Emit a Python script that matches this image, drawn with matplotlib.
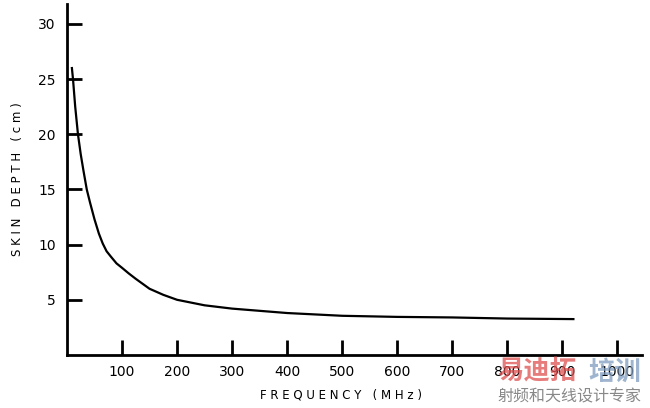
import matplotlib
matplotlib.use("Agg")
import matplotlib.pyplot as plt

# -------------------------
# dados
# -------------------------
freq_mhz = [9, 11, 15, 20, 25, 30, 36, 42, 50, 58, 65, 72, 80, 90, 100, 112,
            125, 150, 175, 200, 250, 300, 400, 500, 600, 700, 800, 920]
skin_depth_cm = [26, 25, 22.5, 20, 18.2, 16.7, 15, 13.8, 12.3, 11.0, 10.1,
                 9.4, 8.9, 8.3, 7.9, 7.4, 6.9, 6.0, 5.45, 5.0, 4.5, 4.2, 3.8,
                 3.55, 3.45, 3.4, 3.3, 3.25]

x_ticks = [100, 200, 300, 400, 500, 600, 700, 800, 900, 1000]
y_ticks = [5, 10, 15, 20, 25, 30]

fig = plt.figure(figsize=(6.5, 4.08), dpi=100)
ax = fig.add_axes([0.103, 0.130, 0.885, 0.860])

ax.plot(freq_mhz, skin_depth_cm, color="black", linewidth=1.6)

ax.set_xlim(0, 1045)
ax.set_ylim(0, 31.8)

for s in ["top", "right"]:
    ax.spines[s].set_visible(False)
for s in ["left", "bottom"]:
    ax.spines[s].set_linewidth(2)

ax.set_xticks(x_ticks)
ax.set_yticks(y_ticks)
ax.set_xticklabels([str(v) for v in x_ticks])
ax.set_yticklabels([str(v) for v in y_ticks])
ax.tick_params(direction="in", length=11, width=2, labelsize=10, pad=7)
ax.tick_params(axis="y", pad=8)

ax.set_xlabel("F R E Q U E N C Y   ( M H z )", fontsize=8.5)
ax.xaxis.set_label_coords(0.476, -0.095)
ax.set_ylabel("S K I N   D E P T H   ( c m )", fontsize=8.5)
ax.yaxis.set_label_coords(-0.075, 0.50)

# marca d'agua
cjk = ["Noto Sans CJK SC", "DejaVu Sans"]
fig.text(0.765, 0.088, "易迪拓", family=cjk, fontsize=19, fontweight="bold",
         color="#e05050", alpha=0.75, va="center")
fig.text(0.905, 0.088, "培训", family=cjk, fontsize=19, fontweight="bold",
         color="#7f9cbf", alpha=0.75, va="center")
fig.text(0.765, 0.027, "射频和天线设计专家", family=cjk, fontsize=11.5,
         color="#888888", va="center")

fig.savefig("out.png", dpi=100)
